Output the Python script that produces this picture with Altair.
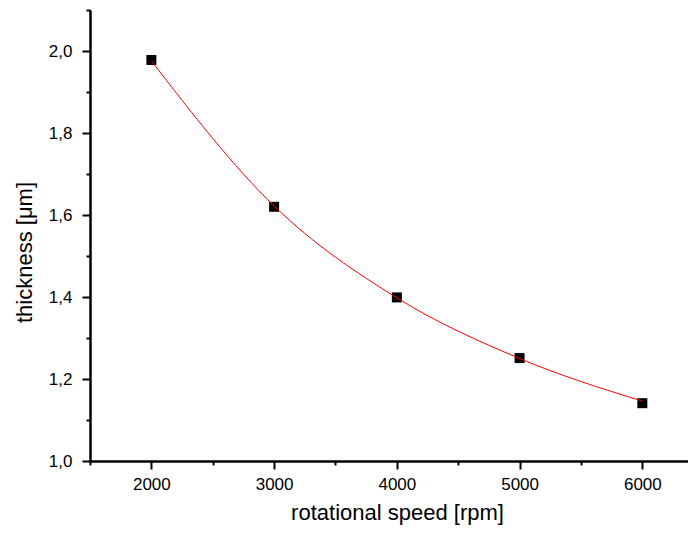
import altair as alt
import pandas as pd

# data
speed = [2000, 3000, 4000, 5000, 6000]
thickness = [1.978, 1.620, 1.399, 1.251, 1.141]
fit_speed = [2000, 3000, 4000, 5000, 6000]
fit_thickness = [1.976, 1.622, 1.398, 1.250, 1.146]

x_major = [2000, 3000, 4000, 5000, 6000]
x_minor = [1500, 2500, 3500, 4500, 5500]
y_major = [1.0, 1.2, 1.4, 1.6, 1.8, 2.0]
y_minor = [1.1, 1.3, 1.5, 1.7, 1.9, 2.1]

pts = pd.DataFrame({"speed": speed, "thickness": thickness})
fit = pd.DataFrame({"speed": fit_speed, "thickness": fit_thickness})

FONT = "Liberation Sans"
xscale = alt.Scale(domain=[1500, 6372], nice=False, zero=False)
yscale = alt.Scale(domain=[1.0, 2.1], nice=False, zero=False)

common_axis = dict(grid=False, domainColor="black", domainWidth=2, tickColor="black",
                   tickWidth=2, labelFont=FONT, labelFontSize=17, labelColor="black",
                   titleFont=FONT, titleFontSize=22, titleFontWeight="normal",
                   titleColor="black")

points = alt.Chart(pts).mark_square(size=100, color="black", opacity=1).encode(
    x=alt.X("speed:Q", scale=xscale,
            axis=alt.Axis(orient="bottom", values=x_major, format="d", tickSize=8,
                          labelPadding=7, title="rotational speed [rpm]",
                          titleX=307, titleY=58, titleBaseline="alphabetic",
                          titleAlign="center", **common_axis)),
    y=alt.Y("thickness:Q", scale=yscale,
            axis=alt.Axis(orient="left", values=y_major, tickSize=8, labelPadding=10,
                          labelExpr="replace(format(datum.value, '.1f'), '.', ',')",
                          title="thickness [μm]", titleX=-59, titleY=242,
                          titleAngle=270, titleBaseline="alphabetic",
                          titleAlign="center", **common_axis)),
)

curve = alt.Chart(fit).mark_line(color="#ff0000", strokeWidth=1, interpolate="monotone").encode(
    x=alt.X("speed:Q", scale=xscale,
            axis=alt.Axis(orient="bottom", values=x_minor, tickSize=4, labels=False,
                          title=None, **common_axis)),
    y=alt.Y("thickness:Q", scale=yscale,
            axis=alt.Axis(orient="left", values=y_minor, tickSize=4, labels=False,
                          title=None, **common_axis)),
)

chart = alt.layer(points, curve).resolve_axis(x="independent", y="independent").properties(
    width=598, height=451,
    padding={"left": 82, "top": 2, "right": 0, "bottom": 64},
    autosize=alt.AutoSizeParams(type="none"),
    background="white",
).configure_view(strokeOpacity=0)

chart.save("out.html", embed_options={"renderer": "svg", "actions": False})
